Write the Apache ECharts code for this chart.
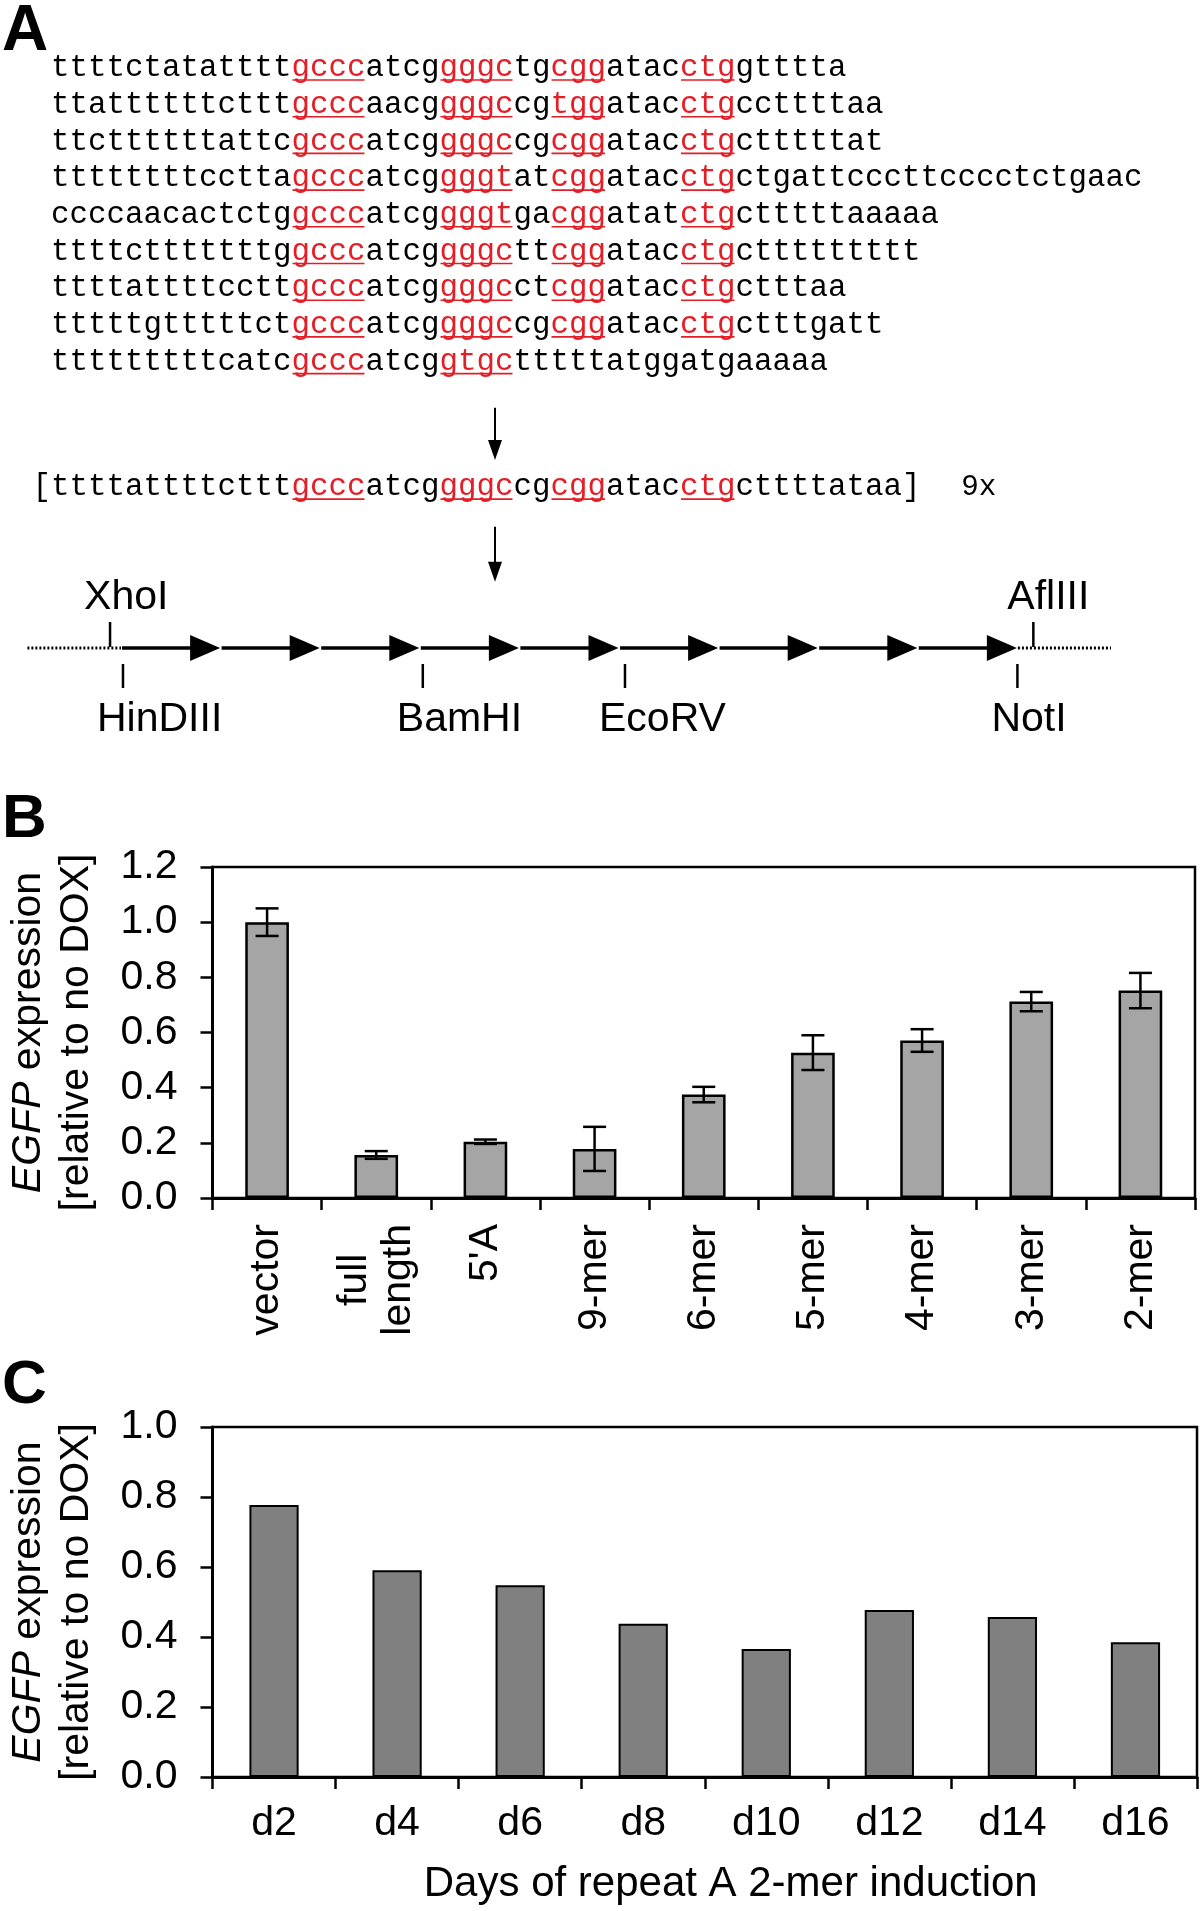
<!DOCTYPE html>
<html><head><meta charset="utf-8">
<script src="https://cdn.jsdelivr.net/npm/echarts@6/dist/echarts.min.js"></script>
<style>html,body{margin:0;padding:0;background:#fff}#c{width:1200px;height:1911px}</style>
</head><body><div id="c"></div>
<script>
// ---------- DATA ----------
// Panel A: repeat A sequences, alternating segments (even index = black, odd index = red motif)
const repeatSequences = [
  ['ttttctatatttt','gccc','atcg','gggc','tg','cgg','atac','ctg','gtttta'],
  ['ttattttttcttt','gccc','aacg','gggc','cg','tgg','atac','ctg','ccttttaa'],
  ['ttcttttttattc','gccc','atcg','gggc','cg','cgg','atac','ctg','ctttttat'],
  ['ttttttttcctta','gccc','atcg','gggt','at','cgg','atac','ctg','ctgattcccttcccctctgaac'],
  ['ccccaacactctg','gccc','atcg','gggt','ga','cgg','atat','ctg','ctttttaaaaa'],
  ['ttttctttttttg','gccc','atcg','gggc','tt','cgg','atac','ctg','cttttttttt'],
  ['ttttattttcctt','gccc','atcg','gggc','ct','cgg','atac','ctg','ctttaa'],
  ['tttttgtttttct','gccc','atcg','gggc','cg','cgg','atac','ctg','ctttgatt'],
  ['tttttttttcatc','gccc','atcg','gtgc','tttttatggatgaaaaa']
];
const consensusSequence = ['[ttttattttcttt','gccc','atcg','gggc','cg','cgg','atac','ctg','cttttataa]'];
const consensusRepeats = '9x';

// Construct map: tandem copies and restriction sites (position in repeat-unit coordinates)
const repeatUnits = [0,1,2,3,4,5,6,7,8];
const siteNames = ['XhoI','HinDIII','BamHI','EcoRV','NotI','AflIII'];
const sitePositions = [-0.12, 0.01, 3.02, 5.05, 8.99, 9.15];
const siteSides = ['top','bottom','bottom','bottom','bottom','top'];

// Panel B
const bCategories = ['vector','full\nlength',"5'A",'9-mer','6-mer','5-mer','4-mer','3-mer','2-mer'];
const bValues = [1.0, 0.156, 0.204, 0.178, 0.375, 0.527, 0.571, 0.712, 0.752];
const bErrors = [0.05, 0.014, 0.008, 0.08, 0.028, 0.063, 0.041, 0.035, 0.064];

// Panel C
const cCategories = ['d2','d4','d6','d8','d10','d12','d14','d16'];
const cValues = [0.777, 0.591, 0.548, 0.438, 0.366, 0.477, 0.457, 0.385];

// ---------- LAYOUT / STYLE ----------
const FONT = 'Liberation Sans';
const MONO = 'Liberation Mono';
const RED = '#e41e26';
const CONSENSUS_ROW = 11.42;
const ARROW_COL = 24;
const ARROWS = [[9.26, 10.68], [12.5, 14.0]];

const seqRows = repeatSequences.map((segs, i) => ({segs, row: i, col: 0}));
seqRows.push({segs: consensusSequence, row: CONSENSUS_ROW, col: -1, tag: consensusRepeats});

function renderSeq(params, api) {
  const info = seqRows[params.dataIndex];
  const r = api.value(1);
  const colW = api.size([1, 0])[0];
  const fs = colW / 0.6;
  const children = [];
  let c = api.value(0);
  info.segs.forEach((s, j) => {
    const p = api.coord([c, r]);
    const red = j % 2 === 1;
    children.push({type: 'text', x: p[0], y: p[1], style: {text: s, fill: red ? RED : '#000',
      fontSize: fs, fontFamily: MONO, align: 'left', verticalAlign: 'middle'}});
    if (red) {
      const p2 = api.coord([c + s.length, r]);
      children.push({type: 'line', shape: {x1: p[0] + 1, y1: p[1] + 12, x2: p2[0] - 1, y2: p[1] + 12},
        style: {stroke: RED, lineWidth: 1.6}});
    }
    c += s.length;
  });
  if (info.tag) {
    const p = api.coord([c + 2.2, r]);
    children.push({type: 'text', x: p[0], y: p[1], style: {text: info.tag, fill: '#000',
      fontSize: fs * 0.95, fontFamily: MONO, align: 'left', verticalAlign: 'middle'}});
  }
  return {type: 'group', children};
}

function renderArrow(params, api) {
  const a = ARROWS[params.dataIndex];
  const p1 = api.coord([api.value(0), a[0]]);
  const p2 = api.coord([api.value(0), a[1]]);
  const hl = 20, hw = 7;
  return {type: 'group', children: [
    {type: 'line', shape: {x1: p1[0], y1: p1[1], x2: p2[0], y2: p2[1] - hl + 2}, style: {stroke: '#000', lineWidth: 2}},
    {type: 'polygon', shape: {points: [[p2[0] - hw, p2[1] - hl], [p2[0] + hw, p2[1] - hl], [p2[0], p2[1]]]}, style: {fill: '#000'}}
  ]};
}

function renderUnit(params, api) {
  const k = api.value(0);
  const s = api.coord([k, 0]);
  const t = api.coord([k + 0.985, 0]);
  const hl = 30, hh = 13;
  const children = [
    {type: 'line', shape: {x1: s[0], y1: s[1], x2: t[0] - hl + 2, y2: t[1]}, style: {stroke: '#000', lineWidth: 3.5}},
    {type: 'polygon', shape: {points: [[t[0] - hl, t[1] - hh], [t[0], t[1]], [t[0] - hl, t[1] + hh]]}, style: {fill: '#000'}}
  ];
  if (params.dataIndex === 0) {
    const l = api.coord([k - 0.95, 0]);
    children.push({type: 'line', shape: {x1: l[0], y1: l[1], x2: s[0] - 1, y2: s[1]},
      style: {stroke: '#000', lineWidth: 3, lineDash: [2, 2]}});
  }
  if (params.dataIndex === repeatUnits.length - 1) {
    const rr = api.coord([k + 1.93, 0]);
    children.push({type: 'line', shape: {x1: t[0] + 1, y1: t[1], x2: rr[0], y2: rr[1]},
      style: {stroke: '#000', lineWidth: 3, lineDash: [2, 2]}});
  }
  return {type: 'group', children};
}

function renderSite(params, api) {
  const p = api.coord([api.value(0), 0]);
  const top = siteSides[params.dataIndex] === 'top';
  const name = siteNames[params.dataIndex];
  const y1 = top ? p[1] - 26 : p[1] + 16;
  const y2 = top ? p[1] - 1 : p[1] + 40;
  return {type: 'group', children: [
    {type: 'line', shape: {x1: p[0], y1: y1, x2: p[0], y2: y2}, style: {stroke: '#000', lineWidth: 2.5}},
    {type: 'text', x: p[0] - 26, y: top ? p[1] - 50 : p[1] + 72,
      style: {text: name, fill: '#000', fontSize: 41, fontFamily: FONT, align: 'left', verticalAlign: 'middle'}}
  ]};
}

function renderErr(params, api) {
  const hi = api.coord([api.value(0), api.value(2)]);
  const lo = api.coord([api.value(0), api.value(1)]);
  const hw = 11.5;
  const st = {stroke: '#000', lineWidth: 2.5};
  return {type: 'group', children: [
    {type: 'line', shape: {x1: hi[0], y1: hi[1], x2: lo[0], y2: lo[1]}, style: st},
    {type: 'line', shape: {x1: hi[0] - hw, y1: hi[1], x2: hi[0] + hw, y2: hi[1]}, style: st},
    {type: 'line', shape: {x1: lo[0] - hw, y1: lo[1], x2: lo[0] + hw, y2: lo[1]}, style: st}
  ]};
}

const richName = {
  i: {fontStyle: 'italic', fontSize: 41, fontFamily: FONT, color: '#000', align: 'center', lineHeight: 48},
  n: {fontSize: 41, fontFamily: FONT, color: '#000', align: 'center', lineHeight: 48}
};
const yName = '{i|EGFP}{n| expression}\n{n|[relative to no DOX]}';

function valueAxis(grid, max, gap) {
  return {gridIndex: grid, type: 'value', min: 0, max: max, interval: 0.2,
    axisLine: {show: true, lineStyle: {color: '#000', width: 3}},
    axisTick: {show: true, length: 12, lineStyle: {color: '#000', width: 2.5}},
    splitLine: {show: false},
    axisLabel: {fontSize: 41, color: '#000', fontFamily: FONT, margin: 35, formatter: v => v.toFixed(1)},
    name: yName, nameLocation: 'middle', nameRotate: 90, nameGap: gap,
    nameTextStyle: {rich: richName}};
}
function catAxis(grid, cats, extra) {
  return Object.assign({gridIndex: grid, type: 'category', data: cats, boundaryGap: true,
    axisLine: {show: true, lineStyle: {color: '#000', width: 3}},
    axisTick: {show: true, length: 12, interval: 0, alignWithLabel: false, lineStyle: {color: '#000', width: 2.5}},
    splitLine: {show: false}}, extra);
}

const chart = echarts.init(document.getElementById('c'), null, {renderer: 'canvas', width: 1200, height: 1911});
chart.setOption({
  animation: false,
  backgroundColor: '#fff',
  title: [
    {text: 'A', left: 2, top: 0, padding: 0, textStyle: {fontSize: 64, fontWeight: 'bold', fontFamily: FONT, color: '#000'}},
    {text: 'B', left: 2, top: 789, padding: 0, textStyle: {fontSize: 62, fontWeight: 'bold', fontFamily: FONT, color: '#000'}},
    {text: 'C', left: 2, top: 1355, padding: 0, textStyle: {fontSize: 62, fontWeight: 'bold', fontFamily: FONT, color: '#000'}}
  ],
  grid: [
    {left: 14, top: 68, width: 1147, height: 550.5, show: false},
    {left: 22.4, top: 560, width: 1095.6, height: 176, show: false},
    {left: 209, top: 867, width: 986, height: 331, show: true, borderColor: '#000', borderWidth: 2.5},
    {left: 209, top: 1427, width: 988, height: 350, show: true, borderColor: '#000', borderWidth: 2.5}
  ],
  xAxis: [
    {gridIndex: 0, type: 'value', min: -2, max: 60, show: false},
    {gridIndex: 1, type: 'value', min: -1, max: 10, show: false},
    catAxis(2, bCategories, {axisLabel: {interval: 0, rotate: 90, margin: 26, color: '#000',
      formatter: v => v.split('\n').map(s => '{c|' + s + '}').join('\n'),
      rich: {c: {fontSize: 41, fontFamily: FONT, color: '#000', align: 'center', lineHeight: 44}}}}),
    catAxis(3, cCategories, {axisLabel: {interval: 0, margin: 26, fontSize: 41, fontFamily: FONT, color: '#000'},
      name: 'Days of repeat A 2-mer induction', nameLocation: 'middle', nameGap: 86,
      nameTextStyle: {fontSize: 42, fontFamily: FONT, color: '#000', padding: [0, 0, 0, 52]}})
  ],
  yAxis: [
    {gridIndex: 0, type: 'value', min: 0, max: 15, inverse: true, show: false},
    {gridIndex: 1, type: 'value', min: -1, max: 1, show: false},
    valueAxis(2, 1.2, 112),
    valueAxis(3, 1.0, 112)
  ],
  series: [
    {type: 'custom', xAxisIndex: 0, yAxisIndex: 0, renderItem: renderSeq,
      data: seqRows.map(r => [r.col, r.row]), silent: true},
    {type: 'custom', xAxisIndex: 0, yAxisIndex: 0, renderItem: renderArrow,
      data: ARROWS.map(a => [ARROW_COL, a[0]]), silent: true},
    {type: 'custom', xAxisIndex: 1, yAxisIndex: 1, renderItem: renderUnit,
      data: repeatUnits.map(k => [k, 0]), silent: true},
    {type: 'custom', xAxisIndex: 1, yAxisIndex: 1, renderItem: renderSite,
      data: sitePositions.map(p => [p, 0]), silent: true},
    {type: 'bar', xAxisIndex: 2, yAxisIndex: 2, data: bValues, barWidth: '40%',
      itemStyle: {color: '#a5a5a5', borderColor: '#000', borderWidth: 2.5}},
    {type: 'custom', xAxisIndex: 2, yAxisIndex: 2, renderItem: renderErr, z: 10,
      encode: {x: 0, y: [1, 2]},
      data: bValues.map((v, i) => [i, v - bErrors[i], v + bErrors[i]])},
    {type: 'bar', xAxisIndex: 3, yAxisIndex: 3, data: cValues, barWidth: '40%',
      itemStyle: {color: '#808080', borderColor: '#000', borderWidth: 2}}
  ]
});
</script>
</body></html>
